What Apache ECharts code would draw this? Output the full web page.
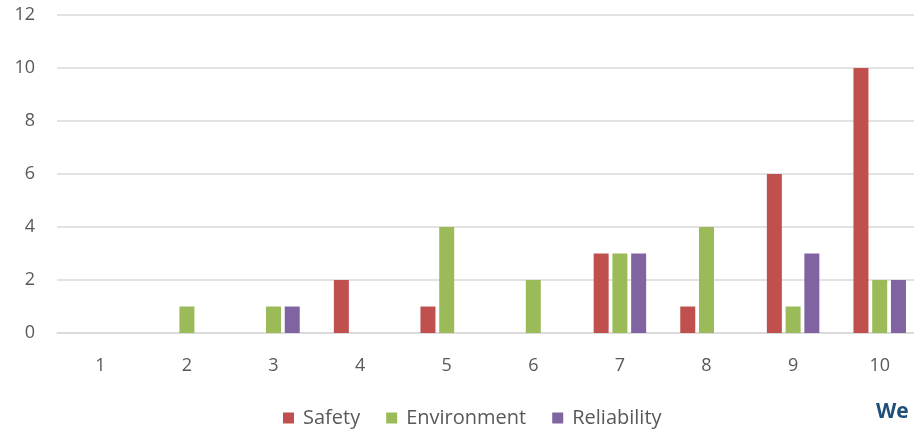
<!DOCTYPE html>
<html>
<head>
<meta charset="utf-8">
<script src="https://cdn.jsdelivr.net/npm/echarts@6/dist/echarts.min.js"></script>
<style>
  html, body { margin: 0; padding: 0; background: #fff; }
  #chart { width: 914px; height: 430px; }
</style>
</head>
<body>
<div id="chart"></div>
<script>
// data
const categories = ['1', '2', '3', '4', '5', '6', '7', '8', '9', '10'];
const safety = [0, 0, 0, 2, 1, 0, 3, 1, 6, 10];
const environment = [0, 1, 1, 0, 4, 2, 3, 4, 1, 2];
const reliability = [0, 0, 1, 0, 0, 0, 3, 0, 3, 2];

const chart = echarts.init(document.getElementById('chart'));

const labelFont = 'Open Sans, Lato, sans-serif';

function barSeries(name, data, color) {
    return {
        name: name,
        type: 'bar',
        data: data,
        barWidth: 15,
        barGap: '25%',
        itemStyle: { color: color },
        emphasis: { disabled: true }
    };
}

chart.setOption({
    animation: false,
    // the plot runs past the right edge of the picture
    grid: { left: 57, width: 866, top: 15, height: 318, outerBoundsMode: 'none' },
    legend: {
        top: 408,
        left: 283,
        padding: 0,
        itemWidth: 11,
        itemHeight: 11,
        itemGap: 26,
        icon: 'rect',
        textStyle: { color: '#595959', fontSize: 20, fontFamily: labelFont, padding: [0, 0, 0, 4] },
        data: ['Safety', 'Environment', 'Reliability']
    },
    xAxis: {
        type: 'category',
        data: categories,
        axisLine: { lineStyle: { color: '#d9d9d9', width: 1.5 } },
        axisTick: { show: false },
        axisLabel: { color: '#595959', fontSize: 18, fontFamily: labelFont, margin: 24 }
    },
    yAxis: {
        type: 'value',
        min: 0,
        max: 12,
        interval: 2,
        axisLine: { show: false },
        axisTick: { show: false },
        splitLine: { lineStyle: { color: '#d9d9d9', width: 1.5 } },
        axisLabel: { color: '#595959', fontSize: 18, fontFamily: labelFont, margin: 22 }
    },
    series: [
        barSeries('Safety', safety, '#c0504d'),
        barSeries('Environment', environment, '#9bbb59'),
        barSeries('Reliability', reliability, '#8064a2')
    ],
    graphic: [{
        type: 'text',
        left: 876,
        top: 402,
        style: { text: 'We', fill: '#1f4e79', font: 'bold 21px Open Sans, sans-serif' }
    }]
});
</script>
</body>
</html>
